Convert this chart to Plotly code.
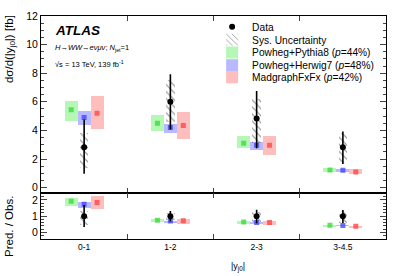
import plotly.graph_objects as go

# Bins of |y_j0|
bins = ["0-1", "1-2", "2-3", "3-4.5"]
xpos = [0, 1, 2, 3]

# Data: central value, total error (up/down), systematic band (upper/lower edge)
data_val = [2.83, 6.0, 4.83, 2.83]
data_err_up = [1.93, 1.93, 1.93, 1.10]
data_err_dn = [1.86, 1.93, 2.07, 1.18]
sys_hi = [3.8, 7.5, 6.2, 3.8]
sys_lo = [1.4, 4.6, 3.1, 1.72]

# Predictions: central value, band upper and lower edges
pythia_val = [5.45, 4.5, 3.1, 1.24]
pythia_hi = [6.07, 5.1, 3.6, 1.38]
pythia_lo = [4.69, 3.93, 2.76, 1.10]

herwig_val = [4.9, 4.2, 2.97, 1.21]
herwig_hi = [5.38, 4.48, 3.17, 1.31]
herwig_lo = [4.41, 3.79, 2.62, 1.11]

madgraph_val = [5.2, 4.34, 2.97, 1.1]
madgraph_hi = [6.4, 5.3, 3.59, 1.27]
madgraph_lo = [4.07, 3.38, 2.28, 0.93]

models = [
    ("Powheg+Pythia8 (<i>p</i>=44%)", pythia_val, pythia_hi, pythia_lo, -0.15,
     "rgba(90,240,90,0.45)", "rgba(60,220,60,0.8)"),
    ("Powheg+Herwig7 (<i>p</i>=48%)", herwig_val, herwig_hi, herwig_lo, 0.0,
     "rgba(100,100,255,0.45)", "rgba(70,70,255,0.8)"),
    ("MadgraphFxFx (<i>p</i>=42%)", madgraph_val, madgraph_hi, madgraph_lo, 0.15,
     "rgba(255,110,110,0.45)", "rgba(255,70,70,0.8)"),
]

FONT = "Liberation Sans, Arial, sans-serif"
HATCH = dict(shape="\\", size=5, solidity=0.22, fgcolor="#333", fillmode="overlay")

fig = go.Figure()


def ratio(vals):
    return [v / d for v, d in zip(vals, data_val)]


for panel, (xa, ya) in enumerate([("x", "y"), ("x2", "y2")]):
    main = panel == 0
    # prediction boxes
    for name, val, hi, lo, off, col, ccol in models:
        if main:
            v, h, l = val, hi, lo
        else:
            v, h, l = ratio(val), ratio(hi), ratio(lo)
        xs = [x + off for x in xpos]
        fig.add_trace(go.Bar(
            x=xs, y=[a - b for a, b in zip(h, l)], base=l, width=0.15,
            marker=dict(color=col, line=dict(width=0)),
            name=name, showlegend=False, xaxis=xa, yaxis=ya
        ))
        fig.add_trace(go.Scatter(
            x=xs, y=v, mode="markers",
            marker=dict(symbol="square", size=5, color=ccol),
            name=name, showlegend=False, xaxis=xa, yaxis=ya
        ))

    # systematic hatch + data points
    if main:
        shi, slo = sys_hi, sys_lo
        dv, eu, ed = data_val, data_err_up, data_err_dn
    else:
        shi, slo = ratio(sys_hi), ratio(sys_lo)
        dv = [1.0 for _ in data_val]
        eu, ed = ratio(data_err_up), ratio(data_err_dn)
    fig.add_trace(go.Bar(
        x=xpos, y=[a - b for a, b in zip(shi, slo)], base=slo, width=0.1,
        marker=dict(color="rgba(0,0,0,0)", line=dict(width=0), pattern=HATCH),
        name="Sys. Uncertainty", showlegend=False, xaxis=xa, yaxis=ya
    ))
    fig.add_trace(go.Scatter(
        x=xpos, y=dv, mode="markers",
        marker=dict(symbol="circle", size=6, color="black"),
        error_y=dict(type="data", array=eu, arrayminus=ed, width=0,
                     thickness=1.6, color="black"),
        name="Data", showlegend=False, xaxis=xa, yaxis=ya
    ))

# legend entries, one legend each so the rows can sit close together
fig.add_trace(go.Scatter(x=[None], y=[None], mode="markers",
                         marker=dict(symbol="circle", size=6, color="black"),
                         name="Data", legend="legend"))
fig.add_trace(go.Bar(x=[None], y=[None], name="Sys. Uncertainty", legend="legend2",
                     marker=dict(color="rgba(0,0,0,0)", line=dict(width=0),
                                 pattern=HATCH)))
for i, (name, val, hi, lo, off, col, ccol) in enumerate(models):
    fig.add_trace(go.Bar(x=[None], y=[None], name=name, legend=f"legend{i + 3}",
                         marker=dict(color=col, line=dict(width=0))))

axis_common = dict(showline=True, linecolor="black", linewidth=1, mirror="allticks",
                   ticks="inside", showgrid=False, zeroline=False, automargin=False,
                   tickfont=dict(family=FONT, size=10.5, color="black"))

# row centres of the legend in page pixels (plot area spans 13..239)
legend_rows = [24, 37, 50, 63, 75]
legends = {}
for i, yc in enumerate(legend_rows):
    key = "legend" if i == 0 else f"legend{i + 1}"
    legends[key] = dict(x=0.496, y=(239 - yc) / 226, xanchor="left", yanchor="middle",
                        bgcolor="rgba(0,0,0,0)", borderwidth=0,
                        font=dict(family=FONT, size=10.2, color="black"),
                        itemwidth=30)

fig.update_layout(
    width=407, height=276,
    margin=dict(l=41, r=21, t=13, b=37),
    paper_bgcolor="white", plot_bgcolor="white",
    barmode="overlay", bargap=0,
    font=dict(family=FONT, color="black"),
    xaxis=dict(domain=[0, 1], anchor="y", range=[-0.5, 3.5],
               tickvals=[0.5, 1.5, 2.5], showticklabels=False, ticklen=5,
               showline=True, linecolor="black", linewidth=1, mirror="allticks",
               ticks="inside", showgrid=False, zeroline=False, automargin=False),
    yaxis=dict(domain=[0.208, 1], anchor="x", range=[-0.35, 12], dtick=2, tick0=0,
               ticklen=6, minor=dict(dtick=0.5, ticklen=3, ticks="inside"),
               **axis_common),
    xaxis2=dict(domain=[0, 1], anchor="y2", range=[-0.5, 3.5], matches="x",
                tickvals=xpos, ticktext=bins, ticklen=0,
                minor=dict(tickmode="array", tickvals=[0.5, 1.5, 2.5],
                           ticklen=5, ticks="inside"),
                showline=True, linecolor="black", linewidth=1, mirror="allticks",
                ticks="inside", showgrid=False, zeroline=False, automargin=False,
                tickfont=dict(family=FONT, size=8.5, color="black")),
    yaxis2=dict(domain=[0, 0.208], anchor="x2", range=[-0.4, 2.45],
                tickvals=[0, 1, 2], ticklen=6,
                minor=dict(dtick=0.2, ticklen=3, ticks="inside"),
                **axis_common),
    **legends,
)

fig.add_annotation(text="<b><i>ATLAS</i></b>", xref="paper", yref="paper",
                   x=0.035, y=0.935, xanchor="left", yanchor="middle",
                   showarrow=False, font=dict(size=13.5))
fig.add_annotation(text="<i>H</i>→<i>WW</i>→<i>eνμν</i>; <i>N</i><sub>jet</sub>=1",
                   xref="paper", yref="paper", x=0.035, y=0.855, xanchor="left",
                   yanchor="middle", showarrow=False, font=dict(size=7.5))
fig.add_annotation(text="√s = 13 TeV, 139 fb<sup>-1</sup>",
                   xref="paper", yref="paper", x=0.035, y=0.785, xanchor="left",
                   yanchor="middle", showarrow=False, font=dict(size=7.5))
fig.add_annotation(text="dσ/d(|y<sub>j0</sub>|) [fb]", textangle=-90,
                   xref="paper", yref="paper", x=-0.09, y=1.013, xanchor="center",
                   yanchor="top", showarrow=False, font=dict(size=11.5))
fig.add_annotation(text="Pred. / Obs.", textangle=-90, xref="paper", yref="paper",
                   x=-0.093, y=0.058, xanchor="center", yanchor="middle",
                   showarrow=False, font=dict(size=11.5))
fig.add_annotation(text="|y<sub>j0</sub>|", xref="paper", yref="paper",
                   x=0.57, y=-0.124, xanchor="center", yanchor="middle",
                   showarrow=False, font=dict(size=9))

# drop the page's default body margin so the figure fills the window
fig.write_html("out.html", config={"displayModeBar": False},
               post_script="document.body.style.margin='0px';")
